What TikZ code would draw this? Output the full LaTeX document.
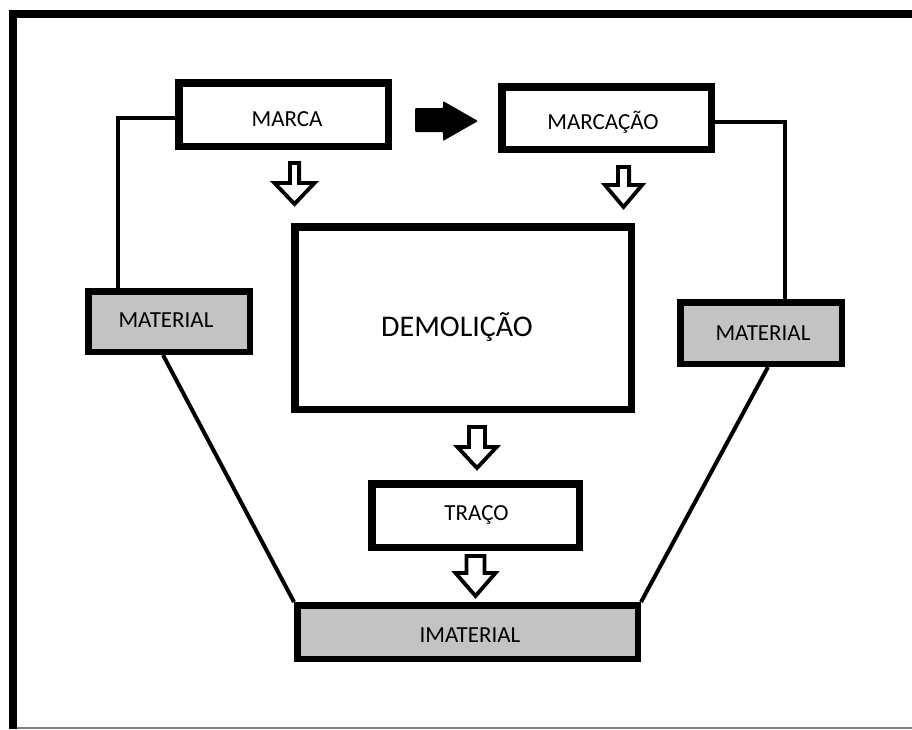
\documentclass[tikz,border=0pt]{standalone}
\usepackage{fontspec}
\setmainfont{Carlito}
\definecolor{boxgray}{HTML}{C3C3C3}
\newcommand\myDownArrow[6]{% cx, top, shafthalf, headhalf, headbase, tip
  \draw[openarr] ({#1-#3},#2) -- ({#1+#3},#2) -- ({#1+#3},#5) -- ({#1+#4},#5) -- (#1,#6) -- ({#1-#4},#5) -- ({#1-#3},#5) -- cycle;}
\begin{document}
\begin{tikzpicture}[x=1pt,y=-1pt,
  box/.style={draw=black, line width=7.5pt, fill=white, inner sep=0pt},
  graybox/.style={draw=black, line width=6.5pt, fill=boxgray, inner sep=0pt},
  lbl/.style={font=\fontsize{23}{27}\selectfont, text=black, inner sep=0pt, text height=14.8pt, text depth=0pt},
  biglbl/.style={lbl, font=\fontsize{30}{36}\selectfont, text height=19.3pt},
  conn/.style={line width=4.5pt},
  openarr/.style={draw=black, fill=white, line width=3.8pt, line join=miter}
]
\useasboundingbox (0,0) rectangle (912,729);
\fill[white] (0,0) rectangle (912,729);
% frame
\draw[line width=8.5pt] (13,729) -- (13,14) -- (912,14);
\draw[gray, line width=1.5pt] (17,727.8) -- (912,727.8);

% boxes
\node[box, minimum width=209.5pt, minimum height=63.5pt,
  label={[lbl,xshift=3.5pt,yshift=-5pt]center:MARCA}] (marca) at (283.5,114.5) {};
\node[box, minimum width=209.5pt, minimum height=62.5pt,
  label={[lbl,xshift=-3.5pt,yshift=-4pt]center:MARCAÇÃO}] (marcacao) at (606.5,118) {};
\node[box, minimum width=336.5pt, minimum height=182.5pt,
  label={[biglbl,xshift=-6pt,yshift=-9pt]center:DEMOLIÇÃO}] (demo) at (463,318) {};
\node[box, minimum width=207.5pt, minimum height=63.5pt,
  label={[lbl,xshift=1pt,yshift=2.5pt]center:TRAÇO}] (traco) at (475.5,515.5) {};
\node[graybox, minimum width=161.5pt, minimum height=60.5pt,
  label={[lbl,xshift=-3pt,yshift=1pt]center:MATERIAL}] (matL) at (169,321.5) {};
\node[graybox, minimum width=161.5pt, minimum height=61.5pt,
  label={[lbl,xshift=2pt]center:MATERIAL}] (matR) at (761,333) {};
\node[graybox, minimum width=340.5pt, minimum height=53.5pt,
  label={[lbl,xshift=2.5pt,yshift=-3pt]center:IMATERIAL}] (imat) at (467.5,632) {};

% connectors
\draw[conn] ([yshift=-3.5pt]marca.west) -| ([xshift=-51pt]matL.north);
\draw[conn] ([yshift=-4pt]marcacao.east) -| ([xshift=24pt]matR.north);
\draw[line width=4pt] ([xshift=-6pt]matL.south) -- (imat.north west);
\draw[line width=4pt] ([xshift=7pt]matR.south) -- (imat.north east);

% black arrow
\fill[black, rounded corners=1pt] (415,108) -- (443,108) -- (443,101) -- (478,121) -- (443,141) -- (443,132) -- (415,132) -- cycle;

% open block arrows
\myDownArrow{294.5}{163}{4.6}{20}{183}{204}
\myDownArrow{623.5}{167}{5.6}{18.6}{185}{207}
\myDownArrow{477}{427}{8}{19.6}{447}{468}
\myDownArrow{475.5}{556}{9}{20}{573}{596}
\end{tikzpicture}
\end{document}
